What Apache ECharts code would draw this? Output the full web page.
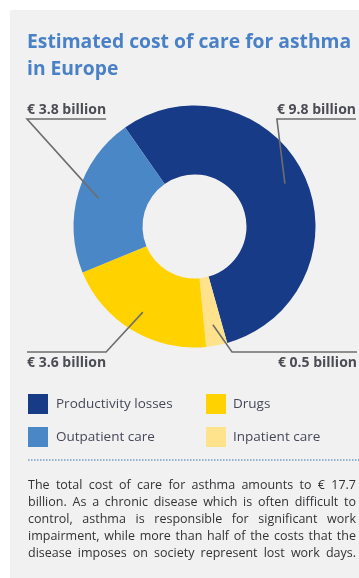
<!DOCTYPE html>
<html>
<head>
<meta charset="utf-8">
<script src="https://cdn.jsdelivr.net/npm/echarts@6/dist/echarts.min.js"></script>
<style>
  html, body { margin: 0; padding: 0; background: #ffffff; }
  #chart { width: 359px; height: 578px; }
</style>
</head>
<body>
<div id="chart"></div>
<script>
// Cost components (billion euro), in drawing order around the ring
const categories = ['Productivity losses', 'Inpatient care', 'Drugs', 'Outpatient care'];
const costs = [9.8, 0.5, 3.6, 3.8];
const sliceColors = ['#173b87', '#ffe38c', '#ffd200', '#4a87c7'];

// Legend columns
const legendLeft = ['Productivity losses', 'Outpatient care'];
const legendRight = ['Drugs', 'Inpatient care'];

const titleText = 'Estimated cost of care for asthma\nin Europe';
const noteLines = [
  'The total cost of care for asthma amounts to \u20ac 17.7',
  'billion. As a chronic disease which is often difficult to',
  'control, asthma is responsible for significant work',
  'impairment, while more than half of the costs that the',
  'disease imposes on society represent lost work days.'
];

// Where each value label sits and how its leader line bends (per data index)
const labelSpots = [
  { x: 356, y: 110, align: 'right', lineY: 119, bend: 'near' },
  { x: 357, y: 363, align: 'right', lineY: 352, bend: 232 },
  { x: 27,  y: 363, align: 'left',  lineY: 352, bend: 'near' },
  { x: 27,  y: 110, align: 'left',  lineY: 119, bend: 'far' }
];

const CENTER = [194.5, 226.5];
const START_ANGLE = 125;
const LABEL_R = 100;

const chart = echarts.init(document.getElementById('chart'), null, { renderer: 'canvas' });

// Justified paragraph built from measured word widths
const measureCtx = document.createElement('canvas').getContext('2d');
const noteFont = '12.5px "Open Sans"';
measureCtx.font = noteFont;
const noteLeft = 28, noteRight = 356, noteBase = 485, noteStep = 17.2;
const noteTexts = [];
noteLines.forEach(function (line, i) {
  const words = line.split(' ');
  const widths = words.map(function (w) { return measureCtx.measureText(w).width; });
  const total = widths.reduce(function (a, b) { return a + b; }, 0);
  const gap = words.length > 1 ? (noteRight - noteLeft - total) / (words.length - 1) : 0;
  let cx = noteLeft;
  words.forEach(function (w, j) {
    noteTexts.push({
      type: 'text',
      x: cx,
      y: noteBase + i * noteStep,
      style: { text: w, font: noteFont, fill: '#333336', verticalAlign: 'middle', align: 'left' },
      silent: true
    });
    cx += widths[j] + gap;
  });
});

// Point inside the ring at the middle angle of a slice, from the data values
function sliceAnchor(idx) {
  const total = costs.reduce(function (a, b) { return a + b; }, 0);
  let before = 0;
  for (let k = 0; k < idx; k++) before += costs[k];
  const mid = before + costs[idx] / 2;
  const ang = (START_ANGLE - mid / total * 360) * Math.PI / 180;
  return [CENTER[0] + LABEL_R * Math.cos(ang), CENTER[1] - LABEL_R * Math.sin(ang)];
}

const pieData = categories.map(function (name, i) {
  return { name: name, value: costs[i], itemStyle: { color: sliceColors[i] } };
});

const option = {
  animation: false,
  backgroundColor: '#ffffff',
  color: sliceColors,
  graphic: [
    { type: 'rect', shape: { x: 10, y: 10, width: 349, height: 568 }, style: { fill: '#f1f1f1' }, z: -10, silent: true },
    { type: 'line', shape: { x1: 28, y1: 460, x2: 359, y2: 460 },
      style: { stroke: '#6f9bd3', lineWidth: 1.3, lineDash: [1.5, 1.5] }, silent: true }
  ].concat(noteTexts),
  title: {
    text: titleText,
    left: 27,
    top: 29,
    padding: 0,
    textStyle: {
      fontFamily: 'Open Sans',
      fontWeight: 'bold',
      fontSize: 19.3,
      lineHeight: 27,
      color: '#4a81c6'
    }
  },
  legend: [
    {
      data: legendLeft,
      orient: 'vertical',
      left: 28,
      top: 394,
      icon: 'rect',
      itemWidth: 20,
      itemHeight: 20,
      itemGap: 13,
      padding: 0,
      selectedMode: false,
      textStyle: { fontFamily: 'Open Sans', fontSize: 13.5, color: '#47475a', padding: [0, 0, 0, 3] }
    },
    {
      data: legendRight,
      orient: 'vertical',
      left: 206,
      top: 394,
      icon: 'rect',
      itemWidth: 20,
      itemHeight: 20,
      itemGap: 13,
      padding: 0,
      selectedMode: false,
      textStyle: { fontFamily: 'Open Sans', fontSize: 13.5, color: '#47475a', padding: [0, 0, 0, 2] }
    }
  ],
  series: [
    {
      type: 'pie',
      name: 'Cost of care',
      z: 2,
      center: CENTER,
      radius: [52, 121],
      startAngle: START_ANGLE,
      clockwise: true,
      avoidLabelOverlap: false,
      label: { show: false },
      labelLine: { show: false },
      emphasis: { disabled: true },
      silent: true,
      data: pieData
    },
    {
      // Label carrier: same slices, invisible; leader lines start inside the ring
      type: 'pie',
      name: 'Labels',
      z: 5,
      center: CENTER,
      radius: [0, LABEL_R],
      startAngle: START_ANGLE,
      clockwise: true,
      avoidLabelOverlap: false,
      silent: true,
      emphasis: { disabled: true },
      legendHoverLink: false,
      itemStyle: { color: 'rgba(0,0,0,0)' },
      label: {
        show: true,
        position: 'outside',
        formatter: '\u20ac {c} billion',
        fontFamily: 'Open Sans',
        fontWeight: 'bold',
        fontSize: 14,
        color: '#4c4c55'
      },
      labelLine: {
        show: true,
        length: 10,
        length2: 10,
        lineStyle: { color: '#6e6e6e', width: 1.6 }
      },
      labelLayout: function (params) {
        const spot = labelSpots[params.dataIndex];
        const w = params.labelRect.width;
        const near = spot.align === 'right' ? spot.x - w : spot.x + w;
        const far = spot.x;
        const start = sliceAnchor(params.dataIndex);
        let pts;
        if (spot.bend === 'far') {
          pts = [start, [far, spot.lineY], [near, spot.lineY]];
        } else {
          const bx = spot.bend === 'near' ? near : spot.bend;
          pts = [start, [bx, spot.lineY], [far, spot.lineY]];
        }
        return {
          x: spot.x,
          y: spot.y,
          align: spot.align,
          verticalAlign: 'middle',
          labelLinePoints: pts
        };
      },
      data: categories.map(function (name, i) { return { name: name, value: costs[i] }; })
    }
  ]
};

chart.setOption(option);
</script>
</body>
</html>
